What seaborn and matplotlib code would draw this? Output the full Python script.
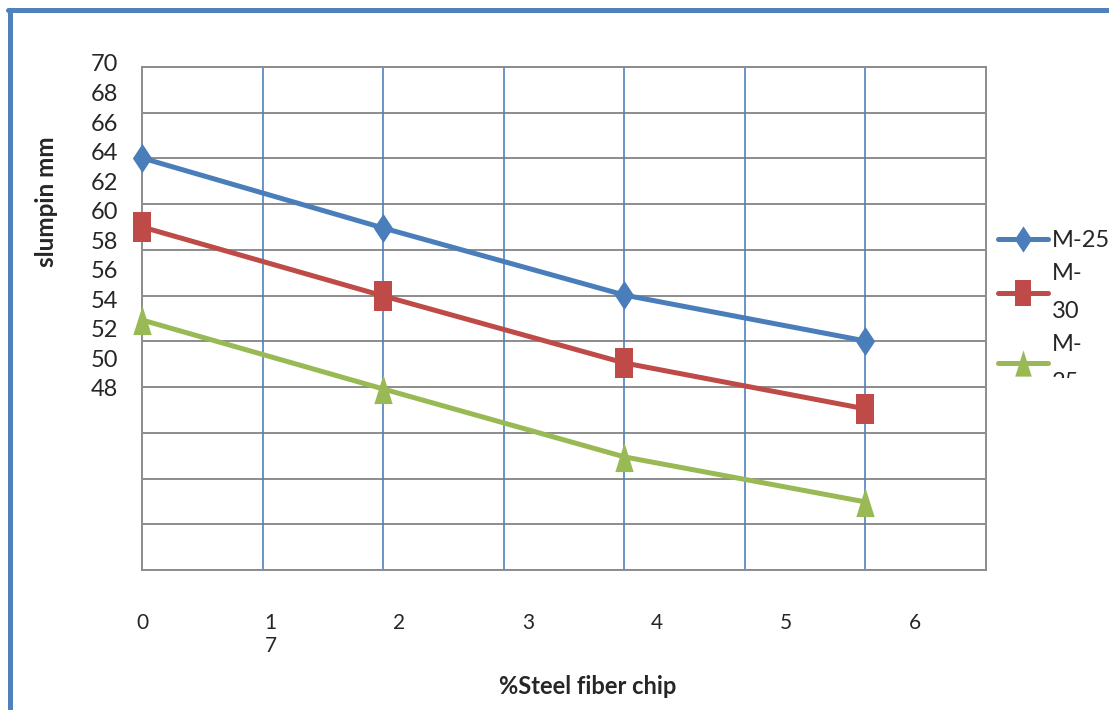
import matplotlib
matplotlib.use("Agg")
import matplotlib.pyplot as plt
import seaborn as sns
import numpy as np
from matplotlib.path import Path
from matplotlib.lines import Line2D
from matplotlib.transforms import ScaledTranslation, Bbox, TransformedBbox

# data
fiber_pct = [0, 2, 4, 6]
m25 = [63.84, 59.10, 54.56, 51.45]
m30 = [59.17, 54.50, 49.96, 46.85]
m25_b = [52.87, 48.20, 43.60, 40.55]
series_labels = ["M-25", "M-\n30", "M-\n25"]
x_tick_labels = ["0", "1\n7", "2", "3", "4", "5", "6"]
y_tick_values = list(range(48, 72, 2))

blue = "#4A7EBB"
red = "#BE4B48"
green = "#98B954"

sns.set_style("white")
plt.rcParams["font.family"] = ["Lato", "DejaVu Sans"]

# Excel markers, stretched vertically
diamond = Path([(0, 1), (0.66, 0), (0, -1), (-0.66, 0), (0, 1)], closed=True)
square = Path([(-0.62, -1), (0.62, -1), (0.62, 1), (-0.62, 1), (-0.62, -1)], closed=True)
triangle = Path([(-0.63, -1), (0.63, -1), (0, 1), (-0.63, -1)], closed=True)

fig = plt.figure(figsize=(11.09, 7.10), dpi=100)
ax = fig.add_axes([142 / 1109, 1 - 570 / 710, 844 / 1109, 503 / 710])

ax.set_xlim(0, 7)
ax.set_ylim(35.94, 70)

# grid
for yy in np.linspace(35.94, 70, 12):
    ax.axhline(yy, color="#8C8C8C", lw=1.4, zorder=1)
for xx in range(1, 7):
    ax.axvline(xx, color="#4F81BD", lw=1.2, zorder=1)

kw = dict(lw=3.6, markersize=21, markeredgewidth=0, zorder=3)
sns.lineplot(x=fiber_pct, y=m25, ax=ax, color=blue, marker=diamond, label=series_labels[0], **kw)
sns.lineplot(x=fiber_pct, y=m30, ax=ax, color=red, marker=square, label=series_labels[1], **kw)
sns.lineplot(x=fiber_pct, y=m25_b, ax=ax, color=green, marker=triangle, label=series_labels[2], **kw)
for ln in ax.get_lines()[-3:]:
    ln.set_clip_on(False)

for sp in ax.spines.values():
    sp.set_color("#8C8C8C")
    sp.set_linewidth(1.4)

ax.set_yticks(y_tick_values)
ax.set_yticklabels([str(v) for v in y_tick_values], fontsize=17)
ax.tick_params(axis="y", length=0, pad=17)
off = ScaledTranslation(0, 0.04, fig.dpi_scale_trans)
for lab in ax.get_yticklabels():
    lab.set_transform(lab.get_transform() + off)

ax.set_xticks(np.arange(7) * 1.068)
ax.set_xticklabels(x_tick_labels, fontsize=15, va="top", linespacing=1.2)
ax.tick_params(axis="x", length=0, pad=31)

ax.set_ylabel("")
ax.set_xlabel("")
fig.text(588 / 1109, 1 - 686 / 710, "%Steel fiber chip", fontsize=17, fontweight="bold",
         ha="center", va="center")
fig.text(46 / 1109, 1 - 202 / 710, "slumpin mm", fontsize=17.5, fontweight="bold",
         rotation=90, ha="center", va="center")

leg = ax.legend(loc="upper left", bbox_to_anchor=(998 / 1109, 1 - 230 / 710),
                bbox_transform=fig.transFigure, frameon=False, fontsize=17,
                handlelength=2.1, handletextpad=0.2, borderpad=0, borderaxespad=0,
                labelspacing=0.5, markerscale=0.9)
clip = TransformedBbox(Bbox.from_extents(0, 1 - 378 / 710, 1, 1), fig.transFigure)
for t in leg.get_texts():
    t.set_linespacing(2.0)
    t.set_clip_box(clip)
    t.set_clip_on(True)

# outer border on the left and top
fig.add_artist(Line2D([10 / 1109, 10 / 1109], [0, 1 - 10 / 710], color="#4F81BD", lw=3.6,
                      transform=fig.transFigure))
fig.add_artist(Line2D([8 / 1109, 1], [1 - 10 / 710, 1 - 10 / 710], color="#4F81BD", lw=3.6,
                      transform=fig.transFigure))

fig.savefig("out.png", dpi=100)
